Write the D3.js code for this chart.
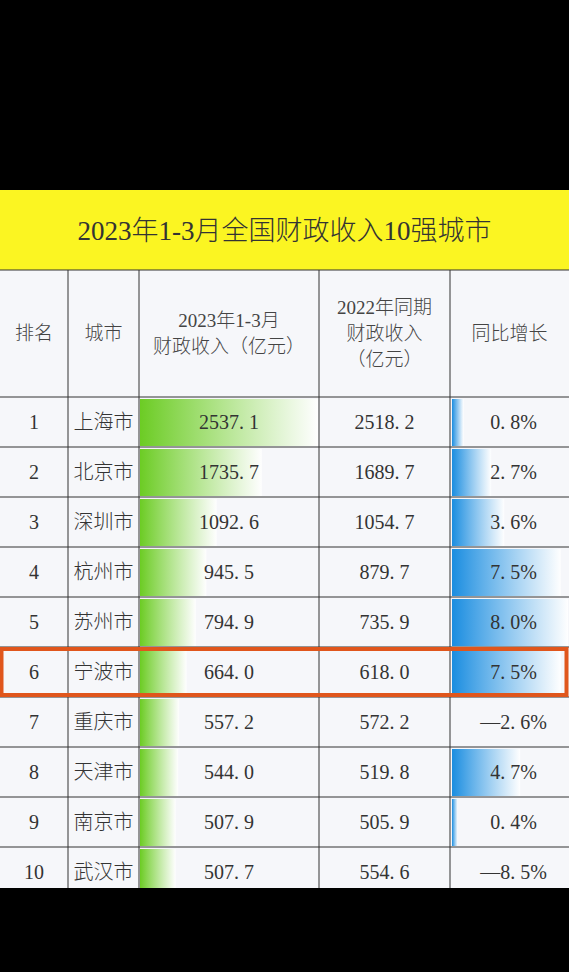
<!DOCTYPE html>
<html><head><meta charset="utf-8">
<script src="https://cdn.jsdelivr.net/npm/d3@7"></script>
<style>body{margin:0;background:#000}svg{display:block}</style>
</head><body><div id="chart"></div>
<script>
const ranks = [1, 2, 3, 4, 5, 6, 7, 8, 9, 10];
const cities = ['上海市', '北京市', '深圳市', '杭州市', '苏州市', '宁波市', '重庆市', '天津市', '南京市', '武汉市'];
const rev2023 = [2537.1, 1735.7, 1092.6, 945.5, 794.9, 664.0, 557.2, 544.0, 507.9, 507.7];
const rev2022 = [2518.2, 1689.7, 1054.7, 879.7, 735.9, 618.0, 572.2, 519.8, 505.9, 554.6];
const growth = [0.8, 2.7, 3.6, 7.5, 8.0, 7.5, -2.6, 4.7, 0.4, -8.5];
const title = '2023年1-3月全国财政收入10强城市';

const W = 569, H = 972;
const font = '"Liberation Serif", "Noto Sans CJK SC", serif';
const cols = [0, 68, 139, 319, 450, 569];
const top0 = 190, titleH = 80, headH = 127, rowH = 50;
const bodyTop = top0 + titleH + headH;

const svg = d3.select('#chart').append('svg').attr('width', W).attr('height', H);
const defs = svg.append('defs');
function grad(id, c) {
    const g = defs.append('linearGradient').attr('id', id);
    g.append('stop').attr('offset', '0%').attr('stop-color', c);
    g.append('stop').attr('offset', '100%').attr('stop-color', '#fff').attr('stop-opacity', 0.9);
}
grad('gGreen', '#6ccc24');
grad('gBlue', '#1a8de0');

svg.append('rect').attr('width', W).attr('height', H).attr('fill', '#000');
svg.append('rect').attr('y', top0).attr('width', W).attr('height', titleH).attr('fill', '#fbf522');
svg.append('text').attr('x', W / 2).attr('y', top0 + titleH / 2 + 10).attr('text-anchor', 'middle')
    .attr('font-family', font).attr('font-size', 27).attr('font-weight', 300).attr('fill', '#333').text(title);

const tableBottom = 888;
svg.append('rect').attr('y', top0 + titleH).attr('width', W).attr('height', tableBottom - top0 - titleH).attr('fill', '#f6f7fa');

// header
const heads = [['排名'], ['城市'], ['2023年1-3月', '财政收入（亿元）'], ['2022年同期', '财政收入', '（亿元）'], ['同比增长']];
heads.forEach((lines, i) => {
    const cx = (cols[i] + cols[i + 1]) / 2, cy = top0 + titleH + headH / 2;
    lines.forEach((l, j) => {
        svg.append('text').attr('x', cx).attr('y', cy + 6 + (j - (lines.length - 1) / 2) * 26)
            .attr('text-anchor', 'middle').attr('font-family', font).attr('font-size', 19)
            .attr('font-weight', 300).attr('fill', '#444').text(l);
    });
});

const y = d3.scaleBand().domain(ranks).range([bodyTop, bodyTop + rowH * ranks.length]);
const xG = d3.scaleLinear().domain([0, d3.max(rev2023)]).range([0, cols[3] - cols[2] - 2]);
const xB = d3.scaleLinear().domain([0, d3.max(growth)]).range([0, cols[5] - cols[4] - 3]);

const rows = svg.append('g').selectAll('g').data(ranks).join('g')
    .attr('transform', d => `translate(0,${y(d)})`);
rows.append('rect').attr('x', cols[2] + 1).attr('y', 2).attr('height', rowH - 3)
    .attr('width', (d, i) => xG(rev2023[i])).attr('fill', 'url(#gGreen)');
rows.filter((d, i) => growth[i] > 0).append('rect').attr('x', cols[4] + 2).attr('y', 2).attr('height', rowH - 3)
    .attr('width', d => xB(growth[d - 1])).attr('fill', 'url(#gBlue)');
const txt = (sel, x, f) => sel.append('text').attr('x', x).attr('y', rowH / 2 + 7).attr('text-anchor', 'middle')
    .attr('font-family', font).attr('font-size', 20).attr('font-weight', 300).attr('fill', '#333').text(f);
txt(rows, (cols[0] + cols[1]) / 2, d => d);
txt(rows, (cols[1] + cols[2]) / 2, (d, i) => cities[i]);
txt(rows, (cols[2] + cols[3]) / 2, (d, i) => rev2023[i].toFixed(1).replace('.', '. '));
txt(rows, (cols[3] + cols[4]) / 2, (d, i) => rev2022[i].toFixed(1).replace('.', '. '));
txt(rows, (cols[4] + cols[5]) / 2 + 4, (d, i) => (growth[i] < 0 ? '—' + (-growth[i]).toFixed(1) : growth[i].toFixed(1)).replace('.', '. ') + '%');

// grid lines
const grid = svg.append('g').attr('stroke', '#333').attr('stroke-width', 1);
cols.slice(1, 5).forEach(c => grid.append('line').attr('x1', c).attr('x2', c).attr('y1', top0 + titleH).attr('y2', tableBottom));
[top0 + titleH, bodyTop].concat(ranks.map(r => y(r) + rowH)).forEach(v =>
    grid.append('line').attr('x1', 0).attr('x2', W).attr('y1', v).attr('y2', v));

// highlight 宁波
svg.append('rect').attr('x', 1.5).attr('y', y(6) + 2).attr('width', W - 4).attr('height', rowH - 4)
    .attr('fill', 'none').attr('stroke', '#e0561c').attr('stroke-width', 4);

svg.append('rect').attr('y', tableBottom).attr('width', W).attr('height', H - tableBottom).attr('fill', '#000');
</script></body></html>
